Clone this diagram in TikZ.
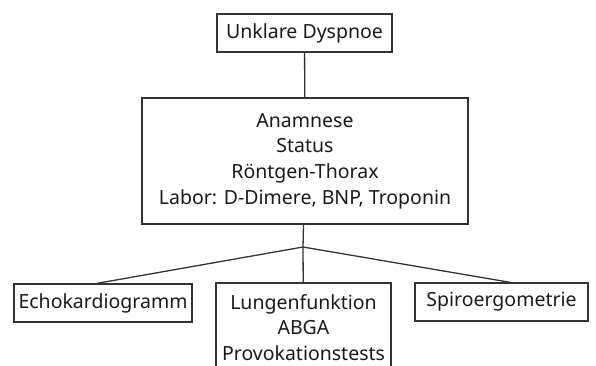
\documentclass[tikz,border=0pt]{standalone}
\usepackage{fontspec}
\setmainfont{Noto Sans}
\begin{document}
\begin{tikzpicture}[x=1pt,y=-1pt,
  kasten/.style={draw=black!80, line width=1.3pt, inner sep=0pt, align=center,
    text=black!90, font=\fontsize{19.5}{25.7}\selectfont},
  linie/.style={draw=black!80, line width=1.3pt}]
 \useasboundingbox (0,0) rectangle (596,365);
 % Kaesten
 \node[kasten, minimum width=175, minimum height=38] (dyspnoe) at (304.5,33) {Unklare Dyspnoe};
 \node[kasten, minimum width=326, minimum height=126] (basis) at (305,161) {Anamnese\\Status\\Röntgen-Thorax\\Labor: D-Dimere, BNP, Troponin};
 \node[kasten, minimum width=178, minimum height=38] (echo) at (103,303) {Echokardiogramm};
 \node[kasten, minimum width=175, minimum height=89] (lungen) at (303.5,327.5) {Lungenfunktion\\ABGA\\Provokationstests};
 \node[kasten, minimum width=173, minimum height=38] (spiro) at (501.5,302) {Spiroergometrie};
 % Verbindungen
 \coordinate (gabel) at (303,247);
 \draw[linie] (dyspnoe) -- (basis);
 \draw[linie] (basis) -- (gabel);
 \draw[linie] (gabel) -- (echo.107);
 \draw[linie] (gabel) -- (lungen);
 \draw[linie] (gabel) -- (spiro.66);
\end{tikzpicture}
\end{document}
